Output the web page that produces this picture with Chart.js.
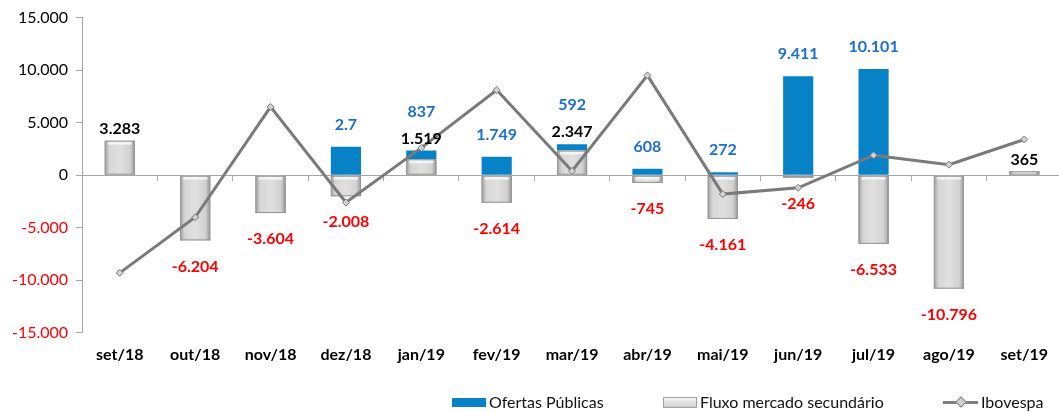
<!DOCTYPE html>
<html>
<head>
<meta charset="utf-8">
<script src="https://cdn.jsdelivr.net/npm/chart.js@4.4.0/dist/chart.umd.min.js"></script>
<style>
  body { margin: 0; background: #fff; overflow: hidden; }
  #wrap { position: relative; width: 1067px; height: 412px; }
  .leg { position: absolute; font-family: Lato, sans-serif; font-size: 16px; color: #111; top: 392px; line-height: 20px; }
  .sw { position: absolute; }
</style>
</head>
<body>
<div id="wrap">
  <canvas id="chart" width="1067" height="412"></canvas>
  <div class="sw" style="left:452px;top:398px;width:34px;height:9px;background:#0882c6;"></div>
  <span class="leg" style="left:489px;">Ofertas Públicas</span>
  <div class="sw" style="left:663px;top:397px;width:32px;height:9px;border:1px solid #a0a0a0;background:linear-gradient(#f4f4f4,#cfcfcf);"></div>
  <span class="leg" style="left:700px;">Fluxo mercado secundário</span>
  <div class="sw" style="left:943px;top:401px;width:35px;height:3px;background:#7f7f7f;"></div>
  <div class="sw" style="left:957px;top:398px;width:6px;height:6px;background:#d0d0d0;border:1px solid #8a8a8a;transform:rotate(45deg);"></div>
  <span class="leg" style="left:981px;">Ibovespa</span>
</div>
<script>
const categorias = ['set/18', 'out/18', 'nov/18', 'dez/18', 'jan/19', 'fev/19', 'mar/19',
                    'abr/19', 'mai/19', 'jun/19', 'jul/19', 'ago/19', 'set/19'];
const ofertasPublicas = [null, null, null, 2700, 837, 1749, 592, 608, 272, 9411, 10101, null, null];
const fluxoSecundario = [3283, -6204, -3604, -2008, 1519, -2614, 2347, -745, -4161, -246, -6533, -10796, 365];
// Ibovespa on its own (hidden) axis
const ibovespa = [-9.3, -4.0, 6.5, -2.6, 2.6, 8.1, 0.4, 9.5, -1.8, -1.2, 1.9, 1.0, 3.4];
const yTicks = [-15000, -10000, -5000, 0, 5000, 10000, 15000];
// label shown as printed in the source
const ofertasTexto = {3: '2.7'};

const fmt = n => (n < 0 ? '-' : '') + String(Math.abs(n)).replace(/\B(?=(\d{3})+(?!\d))/g, '.');

const FONT = 'Lato, sans-serif';
const BLUE = '#0882c6';

const rotulos = {
  id: 'rotulos',
  afterDatasetDraw(chart, args) {
    // bevel look for the grey bars
    if (args.index !== 0) return;
    const ctx = chart.ctx;
    chart.getDatasetMeta(0).data.forEach((el, i) => {
      if (fluxoSecundario[i] == null) return;
      const {x, y, base, width} = el.getProps(['x', 'y', 'base', 'width'], true);
      const l = x - width / 2, top = Math.min(y, base), h = Math.abs(base - y);
      const g = ctx.createLinearGradient(l, 0, l + width, 0);
      g.addColorStop(0, '#a0a0a0');
      g.addColorStop(0.16, '#d6d6d6');
      g.addColorStop(0.5, '#e0e0e0');
      g.addColorStop(0.84, '#d2d2d2');
      g.addColorStop(1, '#969696');
      ctx.save();
      ctx.fillStyle = g;
      ctx.fillRect(l, top, width, h);
      ctx.fillStyle = 'rgba(255,255,255,0.7)';
      ctx.fillRect(l + 3, top + 1, width - 6, Math.min(3, h - 1));
      ctx.strokeStyle = '#959595';
      ctx.lineWidth = 1;
      ctx.strokeRect(l + 0.5, top + 0.5, width - 1, h - 1);
      ctx.restore();
    });
  },
  afterDatasetsDraw(chart) {
    const ctx = chart.ctx;
    const mf = chart.getDatasetMeta(0).data;
    const mo = chart.getDatasetMeta(1).data;
    ctx.save();
    ctx.font = 'bold 16px ' + FONT;
    ctx.textAlign = 'center';
    ctx.textBaseline = 'middle';
    categorias.forEach((c, i) => {
      const f = fluxoSecundario[i];
      const o = ofertasPublicas[i];
      const ef = mf[i];
      const eo = mo[i];
      let fluxoLabelY = null;
      if (f != null) {
        if (f >= 0) {
          let top = ef.y;
          if (o != null && o > 0) top = Math.min(top, eo.y);
          fluxoLabelY = top - 12;
          ctx.fillStyle = '#000';
          ctx.fillText(fmt(f), ef.x, fluxoLabelY);
        } else {
          ctx.fillStyle = '#ff0000';
          ctx.fillText(fmt(f), ef.x, ef.y + 26);
        }
      }
      if (o != null) {
        const yy = fluxoLabelY != null ? fluxoLabelY - 27 : eo.y - 22;
        ctx.fillStyle = '#1a6fd1';
        ctx.fillText(ofertasTexto[i] || fmt(o), eo.x, yy);
      }
    });
    ctx.restore();
  }
};

new Chart(document.getElementById('chart'), {
  type: 'bar',
  data: {
    labels: categorias,
    datasets: [
      {
        label: 'Fluxo mercado secundário',
        data: fluxoSecundario,
        backgroundColor: '#d6d6d6',
        borderColor: '#9a9a9a',
        borderWidth: 1,
        order: 1,
        stack: 's'
      },
      {
        label: 'Ofertas Públicas',
        data: ofertasPublicas,
        backgroundColor: BLUE,
        borderWidth: 0,
        order: 1,
        stack: 's'
      },
      {
        type: 'line',
        label: 'Ibovespa',
        data: ibovespa,
        yAxisID: 'y1',
        borderColor: '#7a7a7a',
        borderWidth: 3,
        tension: 0,
        pointStyle: 'rectRot',
        pointRadius: 3.5,
        pointBackgroundColor: '#d2d2d2',
        pointBorderColor: '#7a7a7a',
        pointBorderWidth: 1,
        order: 0
      }
    ]
  },
  options: {
    responsive: false,
    animation: false,
    layout: { padding: { left: 4, right: 0, top: 5, bottom: 36 } },
    datasets: { bar: { categoryPercentage: 1, barPercentage: 0.4 } },
    plugins: { legend: { display: false }, tooltip: { enabled: false } },
    scales: {
      x: {
        stacked: true,
        grid: { display: false, drawTicks: false },
        border: { display: false },
        ticks: { color: '#000', font: { family: FONT, size: 16, weight: 'bold' }, padding: 12 }
      },
      x2: {
        type: 'category',
        axis: 'x',
        position: { y: 0 },
        labels: categorias,
        grid: { offset: true, drawOnChartArea: false, tickLength: 5, color: '#a6a6a6' },
        border: { color: '#a6a6a6' },
        ticks: { display: false }
      },
      y: {
        stacked: true,
        min: -15000,
        max: 15000,
        afterBuildTicks: ax => { ax.ticks = yTicks.map(v => ({ value: v })); },
        grid: { drawOnChartArea: false, tickLength: 6, color: '#a6a6a6' },
        border: { color: '#a6a6a6' },
        ticks: {
          padding: 8,
          font: { family: FONT, size: 16 },
          color: c => c.tick.value < 0 ? '#ff0000' : '#000',
          callback: v => fmt(v)
        }
      },
      y1: { display: false, min: -15, max: 15 }
    }
  },
  plugins: [rotulos]
});
</script>
</body>
</html>
